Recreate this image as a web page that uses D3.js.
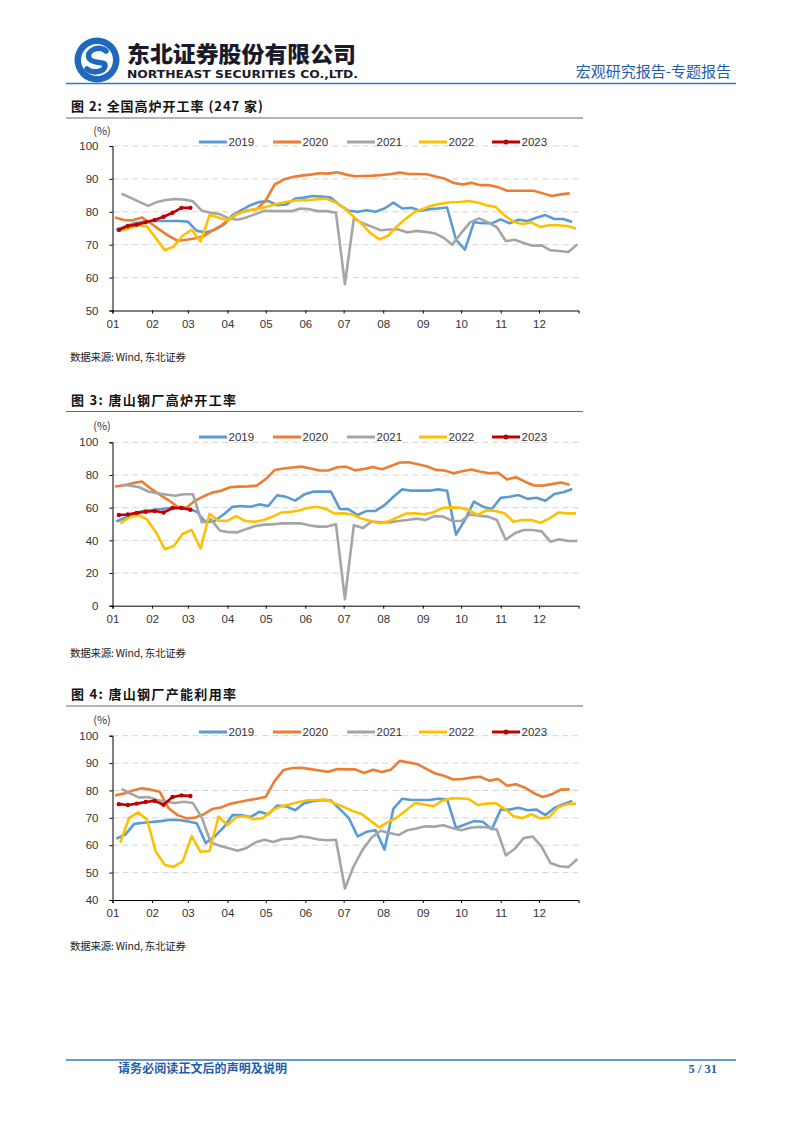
<!DOCTYPE html>
<html><head><meta charset="utf-8">
<script src="https://cdn.jsdelivr.net/npm/d3@7"></script>
<style>body{margin:0;background:#fff;} svg{display:block} text{white-space:pre}</style>
</head><body>
<svg id="page" width="802" height="1133"></svg>
<script>
// ---------------- DATA ----------------
const years = ["2019", "2020", "2021", "2022", "2023"];
const firstWeekDates = ["2019-01-04", "2020-01-03", "2021-01-08", "2022-01-07", "2023-01-06"];
const monthLabels = ["01","02","03","04","05","06","07","08","09","10","11","12"];

const chartTitles = ["图 2: 全国高炉开工率 (247 家)", "图 3: 唐山钢厂高炉开工率", "图 4: 唐山钢厂产能利用率"];
const sourceText = "数据来源: Wind, 东北证券";
const c1YTicks = [50, 60, 70, 80, 90, 100];
const c2YTicks = [0, 20, 40, 60, 80, 100];
const c3YTicks = [40, 50, 60, 70, 80, 90, 100];

// Chart 1: 全国高炉开工率
const c1_2019 = [74.6,75.5,76.5,77,77.2,77.2,77.2,77.2,77.0,74.2, 73.8,74.5,76,79,80.5,82,83,83.3,82,82.2, 84,84.3,84.8,84.6,84.3,82,
                 80.3,80,80.5,80,81,82.8,81,81.2,80.3,80.8, 81,81.3,71.5,68.5,76.8,76.5,76.5,77.7,76.5,77.6, 77.2,78.2,79,77.8,77.8,76.9];
const c1_2020 = [78.3,77.5,77.4,78.3,76.5,74.5,72.7,71.2,71.5,71.9, 72.5,74.3,75.8,77.8,79.7,80.4,80.8,83.5,88.3,89.8, 90.6,91.0,91.3,91.7,91.6,92,
                 91.3,90.8,90.9,91,91.2,91.5,91.9,91.5,91.5,91.4, 90.7,90.1,88.8,88.3,88.8,88.1,88.1,87.5,86.4,86.4, 86.4,86.4,85.6,84.8,85.3,85.6];
const c1_2021 = [85.5,84.3,83,81.8,83,83.6,83.9,83.7,83.2,80.3, 79.7,79.3,78,77.6,78.3,79.3,80.3,80.2,80.2,80.2, 81,80.8,80.2,80.2,79.7,58,
                 78,76.5,75.5,74.4,74.6,74.6,73.7,74.2,73.9,73.5, 72.2,70,73.5,76.8,78,76.8,75.3,71.1,71.5,70.5, 69.7,69.8,68.3,68.1,67.8,70.1];
const c1_2022 = [74.3,75,76,75.5,72,68.3,69.5,72.8,74.5,71, 79,78.3,77.4,79.2,80.3,80.8,81.2,82,82.7,83.2, 83.6,83.5,83.8,84,83,81.3,
                 78.8,76.4,73.5,71.6,72.8,75.7,78,80,81,82, 82.5,82.9,83,83.3,82.8,82,81.5,78.9,77,76.3, 76.8,75.4,75.9,75.9,75.7,74.9];
const c1_2023 = [74.5,75.7,76.1,76.8,77.5,78.5,79.7,81.2,81.2];

// Chart 2: 唐山钢厂高炉开工率
const c2_2019 = [51.5,53.8,56.5,58,58.6,59.2,59.8,60,59.5,57.5, 51,52,55.8,60.5,61,60.6,62,61,67.6,66.6, 64.3,68,69.8,69.8,69.8,59.2,
                 59,55.5,58,58,61.5,66.7,71.2,70.4,70.4,70.4, 71.2,70.4,43.5,52.5,63.7,60.6,59.2,66,66.7,67.7, 65.4,66.1,64.2,68.4,69.4,71.4];
const c2_2020 = [72.9,73.7,75,76,71.6,68,64.5,60.5,60,64, 66.8,69.2,70.3,72.5,72.9,73,73.5,77.5,83,84, 84.6,85.1,84,82.7,82.7,84.7,
                 85.1,82.8,83.7,84.9,83.5,85.5,87.6,87.8,86.6,85.3, 83.1,82.7,81,82.3,83.3,82,81,81.4,77.3,78.6, 75.9,73.6,73.5,74.4,75.4,74];
const c2_2021 = [73.9,73.5,72.5,69.9,68.8,68,67.3,68.2,68.2,51, 53,46,45,44.9,47,48.8,49.6,49.8,50.4,50.4, 50.4,49.2,48.4,48.4,49.8,4,
                 49.3,47.5,51.5,51,51,51.8,52.4,53.3,52.4,54.8, 54.5,52,51.8,55.8,55,54.5,52.4,40.4,44.3,46.3, 46.3,45.5,39.2,40.6,39.6,39.6];
const c2_2022 = [50.4,54,55.5,52.8,45,34.5,36.5,44,46.3,35, 56.3,52,52,54.8,51.8,51.4,52.3,54.4,57,57.4, 58.3,59.8,60.6,59.2,56.4,56.5,
                 55.8,53.3,51.8,50.5,51.6,54,56.4,56.5,56,57, 59.7,60.2,60,58.5,55.5,58.5,58,56.6,51.4,52.4, 52.4,50.8,53.3,57,56.5,56.5];
const c2_2023 = [55.5,55.8,56.8,57.5,58,57,59.8,59.8,58.7];

// Chart 3: 唐山钢厂产能利用率
const c3_2019 = [62.4,63.9,67.8,68.2,68.5,68.8,69.3,69.2,68.7,68, 60.8,63.2,66.5,71,71,70.3,72.2,71.3,74.5,74.2, 72.8,75.3,76.1,76.5,76.3,73.2,
                 70,63.2,64.9,65.5,58.4,73.4,77,76.5,76.5,76.5, 77,76.8,66.3,67.6,68.8,68.6,65.8,73,73,73.7, 72.8,73,71,73.6,75,76.2];
const c3_2020 = [78.2,78.9,80,80.8,80.3,79.5,73.5,71,69.8,70, 71.2,73.2,73.8,75.1,75.8,76.4,77,77.7,83.5,87.5, 88.2,88.3,87.8,87.3,86.8,87.8,
                 87.7,87.7,86.4,87.6,86.7,87.6,90.8,90.2,89.6,87.8, 86.2,85.3,84,84.2,84.7,85,83.6,84.2,81.7,82.3, 81,79,77.6,78.6,80.3,80.4];
const c3_2021 = [80.6,78.9,77.4,77.6,76.5,75.9,75.4,75.9,75.4,70, 61,59.8,58.9,58,59,61.1,62,61.2,62.3,62.4, 63.3,62.8,62.1,61.8,62,44.2,
                 52.5,58.5,62.8,65.3,64.5,63.7,65.5,66.1,66.9,66.8, 67.3,66.3,65.5,66.4,66.7,66.5,65.7,56.3,58.7,62.6, 63.2,59.5,53.5,52.3,52,55];
const c3_2022 = [60.9,70,72,69.4,57.5,52.8,52.1,54.2,63.3,57.6, 57.9,70.5,67.3,70.3,70.6,69.5,70,72.8,74.2,75, 75.8,76.4,76.5,76.7,75.3,74,
                 72.5,71.4,69,66.5,68.5,70.2,72.8,75.4,74.9,74.2, 76.2,77.1,77.1,76.9,74.7,75.2,75.4,73.3,70.6,69.9, 71.3,69.8,70.2,73.9,75,75.2];
const c3_2023 = [75,74.7,75.2,75.8,76.2,74.8,77.6,78.2,78];

// ---------------- STYLE ----------------
const seriesColors = ["#5B9BD5", "#ED7D31", "#A5A5A5", "#FFC000", "#C00000"];
const brandBlue = "#1F5CAB";

// ---------------- DRAW ----------------
const svg = d3.select("#page");
const parse = d3.timeParse("%Y-%m-%d");
const weekDates = (first, n) => d3.range(n).map(i => d3.timeDay.offset(parse(first), 7 * i));
const toRefYear = d => new Date(2001, d.getMonth(), d.getDate());

// Header
const logo = svg.append("g").attr("transform", "translate(97,60)");
logo.append("circle").attr("r", 22.5).attr("fill", "#1E68BE");
logo.append("circle").attr("r", 16).attr("fill", "#fff");
logo.append("path").attr("d", "M9,-9 C3,-15 -11,-10 -8,-2 C-5,5 9,0 8,6 C7,12 -4,14 -10,9")
  .attr("fill", "none").attr("stroke", "#1E68BE").attr("stroke-width", 5.5).attr("stroke-linecap", "round");
svg.append("text").attr("x", 127).attr("y", 62).text("东北证券股份有限公司")
  .attr("font-family", "Noto Sans CJK SC").attr("font-weight", 900).attr("font-size", 22)
  .attr("textLength", 229).attr("lengthAdjust", "spacingAndGlyphs").attr("fill", "#1a1a2a");
svg.append("text").attr("x", 127).attr("y", 78).text("NORTHEAST SECURITIES CO.,LTD.")
  .attr("font-family", "DejaVu Sans").attr("font-weight", "bold").attr("font-size", 11)
  .attr("textLength", 231).attr("lengthAdjust", "spacingAndGlyphs").attr("fill", "#1a1a2a");
svg.append("text").attr("x", 731).attr("y", 77).attr("text-anchor", "end").text("宏观研究报告-专题报告")
  .attr("font-family", "Noto Sans CJK SC").attr("font-size", 15).attr("fill", brandBlue);
svg.append("line").attr("x1", 66).attr("x2", 736).attr("y1", 83.5).attr("y2", 83.5)
  .attr("stroke", "#3A74C2").attr("stroke-width", 1.6);

// Footer
svg.append("line").attr("x1", 66).attr("x2", 736).attr("y1", 1060).attr("y2", 1060)
  .attr("stroke", "#3A74C2").attr("stroke-width", 1.4);
svg.append("text").attr("x", 118).attr("y", 1073).text("请务必阅读正文后的声明及说明")
  .attr("font-family", "Noto Sans CJK SC").attr("font-weight", "bold").attr("font-size", 12)
  .attr("textLength", 169).attr("lengthAdjust", "spacing").attr("fill", brandBlue);
svg.append("text").attr("x", 717).attr("y", 1073).attr("text-anchor", "end").text("5 / 31")
  .attr("font-family", "Liberation Serif").attr("font-weight", "bold").attr("font-size", 12.5).attr("fill", brandBlue);

const x = d3.scaleTime().domain([new Date(2001, 0, 1), new Date(2002, 0, 1)]).range([112.5, 578.6]);
const monthTicks = d3.timeMonth.range(new Date(2001, 0, 1), new Date(2002, 0, 1));

const charts = [
  { title: chartTitles[0], series: [c1_2019, c1_2020, c1_2021, c1_2022, c1_2023], yTicks: c1YTicks, titleLen: 192,
    titleY: 111, ruleY: 118, unitY: 135, legendY: 142, top: 146, bottom: 310.5, sourceY: 361 },
  { title: chartTitles[1], series: [c2_2019, c2_2020, c2_2021, c2_2022, c2_2023], yTicks: c2YTicks, titleLen: 165,
    titleY: 405, ruleY: 411.5, unitY: 430, legendY: 437, top: 442.3, bottom: 605.7, sourceY: 657 },
  { title: chartTitles[2], series: [c3_2019, c3_2020, c3_2021, c3_2022, c3_2023], yTicks: c3YTicks, titleLen: 165,
    titleY: 699, ruleY: 706, unitY: 724, legendY: 732, top: 735.7, bottom: 900, sourceY: 950 }
];

const legendX = [199, 273, 347, 419, 492];
const tickFont = "Liberation Sans";

charts.forEach(cfg => {
  const g = svg.append("g");
  g.append("text").attr("x", 71).attr("y", cfg.titleY).text(cfg.title)
    .attr("font-family", "Noto Sans CJK SC").attr("font-weight", "bold").attr("font-size", 13).attr("fill", "#111")
    .attr("textLength", cfg.titleLen).attr("lengthAdjust", "spacing");
  g.append("line").attr("x1", 66).attr("x2", 583).attr("y1", cfg.ruleY).attr("y2", cfg.ruleY)
    .attr("stroke", "#6b6b6b").attr("stroke-width", 1.2);
  g.append("text").attr("x", 70).attr("y", cfg.sourceY).text(sourceText)
    .attr("font-family", "Noto Sans CJK SC").attr("font-size", 10.5).attr("fill", "#222")
    .attr("textLength", 116).attr("lengthAdjust", "spacing");

  const y = d3.scaleLinear().domain(d3.extent(cfg.yTicks)).range([cfg.bottom, cfg.top]);

  // gridlines
  g.append("g").selectAll("line").data(cfg.yTicks.slice(1)).join("line")
    .attr("x1", 112.5).attr("x2", 578.6).attr("y1", d => y(d)).attr("y2", d => y(d))
    .attr("stroke", "#D4D4D4").attr("stroke-width", 1).attr("stroke-dasharray", "6,4");

  // y axis
  const ya = g.append("g").attr("transform", "translate(112.5,0)")
    .call(d3.axisLeft(y).tickValues(cfg.yTicks).tickSize(3).tickPadding(11));
  ya.select(".domain").attr("stroke", "#000").attr("stroke-width", 1);
  ya.selectAll(".tick line").attr("stroke", "#000");
  ya.selectAll("text").attr("font-family", tickFont).attr("font-size", 11.5).attr("fill", "#333");

  // x axis
  const xa = g.append("g").attr("transform", `translate(0,${cfg.bottom})`)
    .call(d3.axisBottom(x).tickValues(monthTicks).tickFormat((d, i) => monthLabels[i]).tickSize(3).tickPadding(6));
  xa.select(".domain").attr("stroke", "#000").attr("stroke-width", 1);
  xa.selectAll(".tick line").attr("stroke", "#000");
  xa.selectAll("text").attr("font-family", tickFont).attr("font-size", 11.5).attr("fill", "#333");

  // unit label
  g.append("text").attr("x", 102).attr("y", cfg.unitY).attr("text-anchor", "middle").text("(%)")
    .attr("font-family", "Noto Sans CJK SC").attr("font-size", 11).attr("fill", "#333");

  // lines
  const line = d3.line().x(d => x(d.date)).y(d => y(d.value));
  cfg.series.forEach((vals, si) => {
    const dates = weekDates(firstWeekDates[si], vals.length).map(toRefYear);
    const pts = vals.map((v, i) => ({ date: dates[i], value: v }));
    g.append("path").datum(pts).attr("d", line).attr("fill", "none")
      .attr("stroke", seriesColors[si]).attr("stroke-width", 2.6).attr("stroke-linejoin", "round");
    if (years[si] === "2023") {
      g.append("g").selectAll("circle").data(pts).join("circle")
        .attr("cx", d => x(d.date)).attr("cy", d => y(d.value)).attr("r", 2.2)
        .attr("fill", seriesColors[si]);
    }
  });

  // legend
  const lg = g.append("g");
  years.forEach((yr, si) => {
    const lx = legendX[si];
    lg.append("line").attr("x1", lx).attr("x2", lx + 28).attr("y1", cfg.legendY).attr("y2", cfg.legendY)
      .attr("stroke", seriesColors[si]).attr("stroke-width", 3);
    if (yr === "2023") {
      lg.append("circle").attr("cx", lx + 14).attr("cy", cfg.legendY).attr("r", 2.5).attr("fill", seriesColors[si]);
    }
    lg.append("text").attr("x", lx + 29.5).attr("y", cfg.legendY + 4).text(yr)
      .attr("font-family", tickFont).attr("font-size", 11.5).attr("fill", "#333");
  });
});
</script>
</body></html>
